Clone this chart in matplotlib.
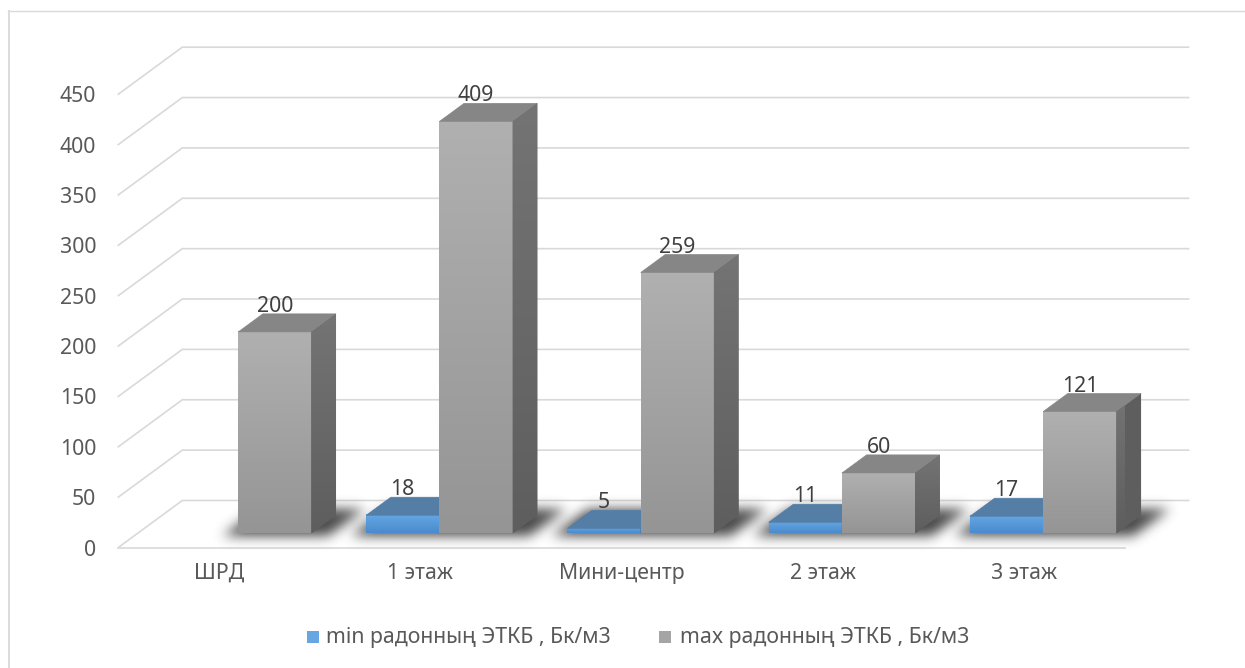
import numpy as np
import matplotlib
matplotlib.use("Agg")
import matplotlib.pyplot as plt
from matplotlib.transforms import Affine2D, IdentityTransform
from matplotlib.patches import Polygon, Rectangle
from matplotlib.path import Path
from matplotlib.lines import Line2D

# ---- data ----
categories = ["ШРД", "1 этаж", "Мини-центр", "2 этаж", "3 этаж"]
min_values = [np.nan, 18, 5, 11, 17]
max_values = [200, 409, 259, 60, 121]
series_names = ["min радонның ЭТКБ , Бк/м3", "max радонның ЭТКБ , Бк/м3"]
y_ticks = list(range(0, 451, 50))

# ---- styling ----
W, H, DPI = 1245, 668, 100
plt.rcParams['font.family'] = ['Noto Sans', 'DejaVu Sans']
FS = 15.3
GRID = '#d9d9d9'
TICK_COLOR = '#595959'
LABEL_COLOR = '#404040'

series_style = [
    dict(front=('#65a6e3', '#4a8bcf'), top='#547ea6', side=('#3f6f9c', '#34618c')),
    dict(front=('#b0b0b0', '#959595'), top='#868686', side=('#747474', '#5e5e5e')),
]

BAR_W = 0.364          # bar width in category units
D0, D1 = 0.30, 0.685   # bar depth span (fraction of floor depth)
DEPTH = np.array([64.0, 47.0])  # pixel offset of the back wall from the front plane

fig = plt.figure(figsize=(W / DPI, H / DPI), dpi=DPI)
fig.patch.set_facecolor('white')
ax = fig.add_axes([118.3 / W, 120.5 / H, 1006.3 / W, 453.3 / H])
ax.set_xlim(-0.5, len(categories) - 0.5)
ax.set_ylim(0, 450)
ax.set_autoscale_on(False)
ax.patch.set_visible(False)
for s in ax.spines.values():
    s.set_visible(False)

ax.set_yticks(y_ticks, labels=[str(t) for t in y_ticks])
ax.set_xticks(range(len(categories)), labels=categories)
ax.tick_params(axis='y', length=0, pad=16, labelsize=FS, labelcolor=TICK_COLOR)
ax.tick_params(axis='x', length=0, pad=11, labelsize=FS, labelcolor=TICK_COLOR)

ID = IdentityTransform()


def shift(d):
    """Transform for the plane at depth d (0 = front, 1 = back wall)."""
    return ax.transData + Affine2D().translate(DEPTH[0] * d, DEPTH[1] * d)


def P(x, v, d):
    return ax.transData.transform((x, v)) + DEPTH * d


def vgrad(c_top, c_bot, n=64):
    a = np.array(matplotlib.colors.to_rgb(c_top))
    b = np.array(matplotlib.colors.to_rgb(c_bot))
    t = np.linspace(0, 1, n)[:, None]
    return (a * (1 - t) + b * t)[:, None, :]


# ---- gridlines: left diagonal + back wall ----
x_lo, x_hi = -0.5, len(categories) - 0.5
for v in y_ticks:
    pts = np.array([P(x_lo, v, 0), P(x_lo, v, 1), P(x_hi, v, 1)])
    ax.add_line(Line2D(pts[:, 0], pts[:, 1], transform=ID, color=GRID, lw=1.2,
                       clip_on=False, zorder=1, solid_joinstyle='miter'))
floor = np.array([P(x_lo, 0, 0), P(x_hi, 0, 0)])
ax.add_line(Line2D(floor[:, 0], floor[:, 1], transform=ID, color=GRID, lw=1.2,
                   clip_on=False, zorder=1))

# ---- soft floor shadows under each bar group ----
mask = np.zeros((H, W))
yy, xx = np.mgrid[0:H, 0:W]
centers = np.column_stack([xx.ravel() + 0.5, yy.ravel() + 0.5])
for i in range(len(categories)):
    xl = i - BAR_W if not np.isnan(min_values[i]) else i
    xr = i + BAR_W
    verts = [P(xl - 0.06, 0, D0 - 0.06), P(xr + 0.10, 0, D0 - 0.06),
             P(xr + 0.10, 0, 0.82), P(xl - 0.06, 0, 0.82)]
    inside = Path(verts).contains_points(centers).reshape(H, W)
    mask = np.maximum(mask, inside.astype(float))

sigma = 6.0
k = np.arange(-int(3 * sigma), int(3 * sigma) + 1)
kern = np.exp(-0.5 * (k / sigma) ** 2)
kern /= kern.sum()
blur = np.zeros_like(mask)
for off, w in zip(k, kern):
    blur += w * np.roll(mask, off, axis=0)
blur2 = np.zeros_like(mask)
for off, w in zip(k, kern):
    blur2 += w * np.roll(blur, off, axis=1)
shadow = np.zeros((H, W, 4))
shadow[..., :3] = 0.16
shadow[..., 3] = np.clip(blur2 * 0.85, 0, 1)
ax.imshow(shadow, extent=(0, W, 0, H), origin='lower', transform=ID,
          aspect='auto', zorder=1.5, clip_on=False, interpolation='nearest')

# ---- 3D columns ----
for i in range(len(categories)):
    for s, vals in enumerate([min_values, max_values]):
        v = vals[i]
        if np.isnan(v):
            continue
        st = series_style[s]
        x0 = i - BAR_W if s == 0 else i
        x1 = x0 + BAR_W
        z = 3 + i * 0.1 + s * 0.05

        # front face (vertical gradient)
        ax.imshow(vgrad(*st['front']), extent=(x0, x1, 0, v), origin='upper',
                  transform=shift(D0), aspect='auto', zorder=z, clip_on=False,
                  interpolation='bilinear')

        # top face
        top = [P(x0, v, D0), P(x1, v, D0), P(x1, v, D1), P(x0, v, D1)]
        ax.add_patch(Polygon(top, closed=True, transform=ID, facecolor=st['top'],
                             edgecolor=st['top'], lw=0.4, zorder=z, clip_on=False))

        # right side face (gradient clipped to the parallelogram)
        side = np.array([P(x1, 0, D0), P(x1, v, D0), P(x1, v, D1), P(x1, 0, D1)])
        side_patch = Polygon(side, closed=True, transform=ID, facecolor=st['side'][1],
                             edgecolor='none', zorder=z, clip_on=False)
        ax.add_patch(side_patch)
        im = ax.imshow(vgrad(*st['side']),
                       extent=(side[:, 0].min(), side[:, 0].max(),
                               side[:, 1].min(), side[:, 1].max()),
                       origin='upper', transform=ID, aspect='auto', zorder=z,
                       interpolation='bilinear')
        im.set_clip_box(None)
        im.set_clip_path(side_patch)

        # value label above the front face
        ax.text((x0 + x1) / 2, v, f"{v:g}",
                transform=shift(D0) + Affine2D().translate(0, 25.5),
                ha='center', va='center', fontsize=FS, color=LABEL_COLOR,
                zorder=10, clip_on=False)

# ---- legend ----
legend_y = 31  # pixels from bottom
legend_items = [(307, 326), (659, 680)]
for (sq_x, tx_x), name, st in zip(legend_items, series_names, series_style):
    c = st['front'][0] if st is series_style[0] else '#a5a5a5'
    fig.add_artist(Rectangle((sq_x / W, (legend_y - 6) / H), 12 / W, 12 / H,
                             transform=fig.transFigure, facecolor=c, edgecolor='none'))
    fig.text(tx_x / W, legend_y / H, name, ha='left', va='center',
             fontsize=FS, color=TICK_COLOR)

# ---- chart frame ----
fig.add_artist(Line2D([8 / W, 1], [1 - 10.5 / H, 1 - 10.5 / H], transform=fig.transFigure,
                      color='#d9d9d9', lw=1.0))
fig.add_artist(Line2D([8.5 / W, 8.5 / W], [0, 1 - 10.5 / H], transform=fig.transFigure,
                      color='#dcdcdc', lw=1.4))

fig.savefig('out.png', dpi=DPI)
